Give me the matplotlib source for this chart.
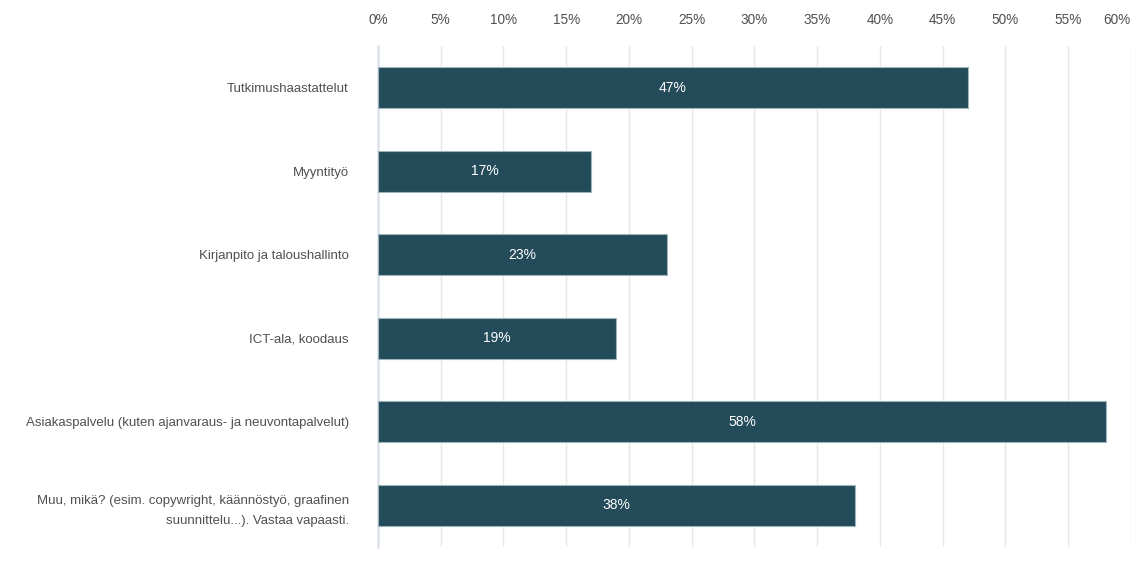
import matplotlib.pyplot as plt
import numpy as np

plt.rcParams['font.family'] = ['Liberation Sans', 'DejaVu Sans']

# ---------- data -----------------------------
categories = [
    "Tutkimushaastattelut",
    "Myyntityö",
    "Kirjanpito ja taloushallinto",
    "ICT-ala, koodaus",
    "Asiakaspalvelu (kuten ajanvaraus- ja neuvontapalvelut)",
    "Muu, mikä? (esim. copywright, käännöstyö, graafinen\nsuunnittelu...). Vastaa vapaasti.",
]
shares = [47, 17, 23, 19, 58, 38]  # in %
xticks = np.arange(0, 61, 5)

BAR_COLOR = "#234b59"
TEXT_GRAY = "#505050"


def main():
    fig = plt.figure(figsize=(11.32, 5.62), dpi=100)
    ax = fig.add_axes([0.3339, 0.0267, 0.6652, 0.8914])

    y = np.arange(len(categories))
    bars = ax.barh(y, shares, height=0.49, color=BAR_COLOR,
                   edgecolor="#9fb3ba", linewidth=0.8, zorder=3)

    # value labels in the middle of each bar
    for b, v in zip(bars, shares):
        ax.text(b.get_width() / 2, b.get_y() + b.get_height() / 2, f"{v}%",
                ha="center", va="center", color="white", fontsize=10, zorder=4)

    ax.set_xlim(0, 60)
    ax.set_ylim(len(categories) - 0.5, -0.5)

    ax.set_yticks(y)
    ax.set_yticklabels(categories, fontsize=9.5, color=TEXT_GRAY, linespacing=1.95)
    ax.tick_params(axis="y", length=0, pad=21)

    # percentage scale sits above the plot
    ax.xaxis.tick_top()
    ax.set_xticks(xticks)
    ax.set_xticklabels([f"{t}%" for t in xticks], fontsize=9.8, color=TEXT_GRAY)
    ax.tick_params(axis="x", length=0, pad=13.8)
    ax.get_xticklabels()[-1].set_horizontalalignment("right")

    ax.grid(axis="x", color="#e8e8e8", linewidth=1, zorder=0)
    for side in ["top", "right", "bottom"]:
        ax.spines[side].set_visible(False)
    ax.spines["left"].set_color("#dde4ef")
    ax.spines["left"].set_linewidth(1.8)
    ax.spines["left"].set_zorder(2)

    fig.savefig("out.png", dpi=100)


if __name__ == "__main__":
    main()
